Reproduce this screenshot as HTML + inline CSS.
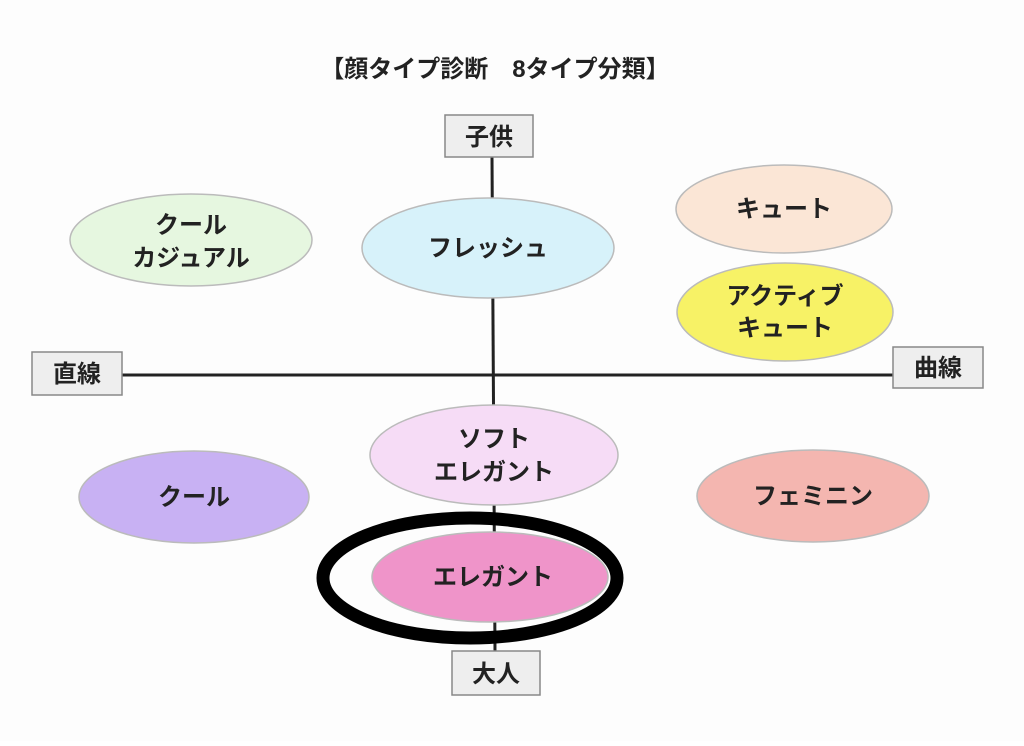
<!DOCTYPE html>
<html><head><meta charset="utf-8"><style>
body{margin:0;background:#fff}
svg text{font-family:"Liberation Sans","Noto Sans CJK JP",sans-serif;fill:#222}
</style></head><body>
<svg width="1024" height="741" viewBox="0 0 1024 741" xmlns="http://www.w3.org/2000/svg">
<rect width="1024" height="741" fill="#fdfdfd"/>
<text x="495" y="77" font-size="24" font-weight="bold" text-anchor="middle">【顔タイプ診断　8タイプ分類】</text>
<line x1="492" y1="157" x2="495" y2="652" stroke="#222" stroke-width="3"/>
<line x1="122" y1="375" x2="893" y2="375" stroke="#222" stroke-width="3"/>
<g stroke="#888" stroke-width="1.5" fill="#eee">
<rect x="445" y="115" width="88" height="42"/>
<rect x="32" y="352" width="90" height="43"/>
<rect x="893" y="347" width="90" height="41"/>
<rect x="452" y="651" width="88" height="44"/>
</g>
<g font-size="24" text-anchor="middle" font-weight="bold">
<text x="489" y="145">子供</text>
<text x="77" y="382">直線</text>
<text x="938" y="376">曲線</text>
<text x="496" y="682">大人</text>
</g>
<g stroke="#bbb" stroke-width="1.5">
<ellipse cx="191" cy="240" rx="121" ry="46" fill="#e6f7e0"/>
<ellipse cx="488" cy="248" rx="126" ry="50" fill="#d7f2fa"/>
<ellipse cx="784" cy="209" rx="108" ry="44" fill="#fbe6d6"/>
<ellipse cx="785" cy="312" rx="108" ry="49" fill="#f7f266"/>
<ellipse cx="494" cy="455" rx="124" ry="50" fill="#f6dcf6"/>
<ellipse cx="194" cy="497" rx="115" ry="46" fill="#c8b1f3"/>
<ellipse cx="813" cy="496" rx="116" ry="46" fill="#f4b6b0"/>
<ellipse cx="490" cy="577" rx="118" ry="45" fill="#ef94c9"/>
</g>
<ellipse cx="470" cy="578" rx="147" ry="60" fill="none" stroke="#000" stroke-width="13"/>
<g font-size="24" text-anchor="middle" font-weight="bold">
<text x="191" y="233">クール</text><text x="191" y="266">カジュアル</text>
<text x="488" y="256">フレッシュ</text>
<text x="784" y="217">キュート</text>
<text x="785" y="304">アクティブ</text><text x="785" y="336">キュート</text>
<text x="494" y="447">ソフト</text><text x="494" y="480">エレガント</text>
<text x="194" y="505">クール</text>
<text x="813" y="504">フェミニン</text>
<text x="493" y="585">エレガント</text>
</g>
</svg>
</body></html>
